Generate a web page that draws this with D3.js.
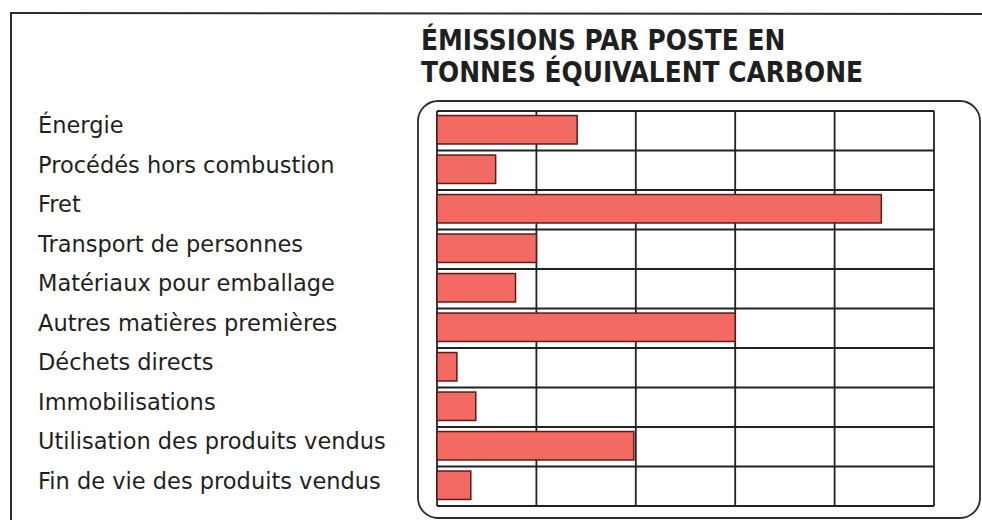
<!DOCTYPE html>
<html>
<head>
<meta charset="utf-8">
<script src="https://cdn.jsdelivr.net/npm/d3@7"></script>
<style>
  html, body { margin: 0; padding: 0; background: #fff; }
  svg { display: block; }
</style>
</head>
<body>
<svg id="chart" width="982" height="520"></svg>
<script>
// Emission categories (top to bottom)
const categories = [
  "Énergie",
  "Procédés hors combustion",
  "Fret",
  "Transport de personnes",
  "Matériaux pour emballage",
  "Autres matières premières",
  "Déchets directs",
  "Immobilisations",
  "Utilisation des produits vendus",
  "Fin de vie des produits vendus"
];

// Emissions per category, in grid units (one column of the grid = 1)
const emissions = [1.41, 0.59, 4.47, 1.0, 0.79, 3.0, 0.2, 0.39, 1.98, 0.34];

// Grid columns (unlabelled scale)
const gridTicks = [0, 1, 2, 3, 4, 5];

const titleLines = ["ÉMISSIONS PAR POSTE EN", "TONNES ÉQUIVALENT CARBONE"];

const svg = d3.select("#chart");

const plot = { left: 437, right: 934, top: 111, bottom: 506 };

const x = d3.scaleLinear()
  .domain([0, 5])
  .range([plot.left, plot.right]);

const y = d3.scaleBand()
  .domain(categories)
  .range([plot.top, plot.bottom])
  .paddingInner(0)
  .paddingOuter(0);

const titleFont = "'DejaVu Sans Condensed', 'Liberation Sans Narrow', sans-serif";
const labelFont = "'DejaVu Sans', 'Liberation Sans', sans-serif";

// Page frame: top rule and left rule
svg.append("line")
  .attr("x1", 11).attr("x2", 982).attr("y1", 13).attr("y2", 14)
  .attr("stroke", "#2b2b2b").attr("stroke-width", 2);
svg.append("line")
  .attr("x1", 11).attr("x2", 11).attr("y1", 12).attr("y2", 520)
  .attr("stroke", "#2b2b2b").attr("stroke-width", 2);

// Rounded panel around the grid
svg.append("rect")
  .attr("x", 418).attr("y", 101)
  .attr("width", 562).attr("height", 417)
  .attr("rx", 20).attr("ry", 20)
  .attr("fill", "none")
  .attr("stroke", "#2b2b2b").attr("stroke-width", 1.8);

// Title
svg.append("g")
  .selectAll("text")
  .data(titleLines)
  .join("text")
  .attr("x", 421)
  .attr("y", (d, i) => 50 + i * 32)
  .attr("font-family", titleFont)
  .attr("font-weight", "bold")
  .attr("font-size", 27.7)
  .attr("fill", "#1f1f1f")
  .text(d => d);

// Grid: horizontal row separators
const rowEdges = categories.map(c => y(c)).concat([plot.bottom]);
svg.append("g")
  .selectAll("line")
  .data(rowEdges)
  .join("line")
  .attr("x1", plot.left).attr("x2", plot.right)
  .attr("y1", d => d).attr("y2", d => d)
  .attr("stroke", "#222").attr("stroke-width", 1.8);

// Grid: vertical column lines
svg.append("g")
  .selectAll("line")
  .data(gridTicks)
  .join("line")
  .attr("x1", d => x(d)).attr("x2", d => x(d))
  .attr("y1", plot.top).attr("y2", plot.bottom)
  .attr("stroke", "#222").attr("stroke-width", 1.8);

// Bars
const barInset = y.bandwidth() * 0.115;
const barHeight = y.bandwidth() * 0.72;
svg.append("g")
  .selectAll("rect")
  .data(categories)
  .join("rect")
  .attr("x", x(0))
  .attr("y", d => y(d) + barInset)
  .attr("width", (d, i) => x(emissions[i]) - x(0))
  .attr("height", barHeight)
  .attr("fill", "#f26a62")
  .attr("stroke", "#5e1a17")
  .attr("stroke-width", 1.5);

// Category labels
svg.append("g")
  .selectAll("text")
  .data(categories)
  .join("text")
  .attr("x", 38)
  .attr("y", d => y(d) + y.bandwidth() / 2 + 2.5)
  .attr("font-family", labelFont)
  .attr("font-size", 22.5)
  .attr("fill", "#1f1f1f")
  .text(d => d);
</script>
</body>
</html>
